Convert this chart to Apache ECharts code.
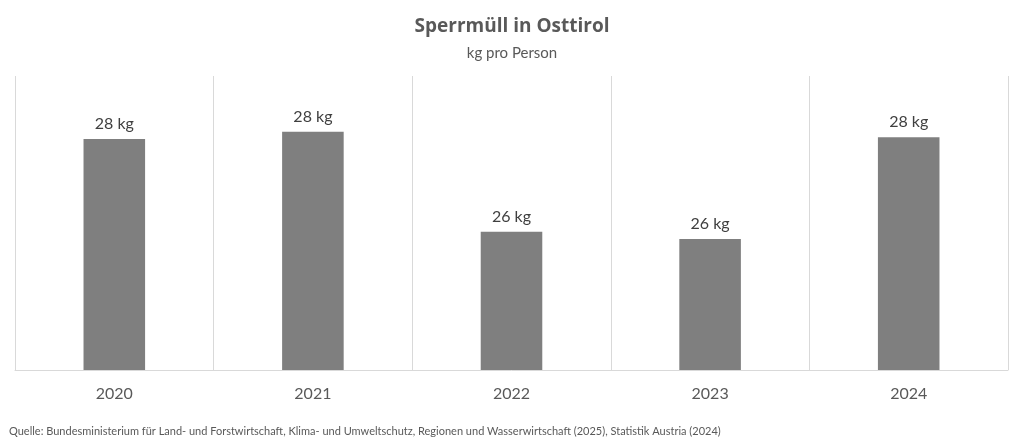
<!DOCTYPE html>
<html>
<head>
<meta charset="utf-8">
<script src="https://cdn.jsdelivr.net/npm/echarts@6/dist/echarts.min.js"></script>
<style>html,body{margin:0;padding:0;background:#fff;}#c{width:1024px;height:439px;}</style>
</head>
<body>
<div id="c"></div>
<script>
var titleText = 'Sperrmüll in Osttirol';
var subtitleText = 'kg pro Person';
var sourceText = 'Quelle: Bundesministerium für Land- und Forstwirtschaft, Klima- und Umweltschutz, Regionen und Wasserwirtschaft (2025), Statistik Austria (2024)';
var categories = ['2020', '2021', '2022', '2023', '2024'];
var values = [27.93, 28.05, 26.35, 26.23, 27.96];
var unit = ' kg';

var font = 'Lato, "Open Sans", sans-serif';
var chart = echarts.init(document.getElementById('c'));
chart.setOption({
  backgroundColor: '#fff',
  animation: false,
  title: [
    { text: titleText, left: 'center', top: 12, textStyle: { fontFamily: '"Open Sans", sans-serif', fontSize: 19, fontWeight: 'bold', color: '#595959' } },
    { text: subtitleText, left: 'center', top: 41, textStyle: { fontFamily: font, fontSize: 15, fontWeight: 'normal', color: '#595959' } },
    { text: sourceText, left: 4, top: 421, textStyle: { fontFamily: font, fontSize: 11, fontWeight: 'normal', color: '#595959' } }
  ],
  grid: { left: 15, right: 16, top: 76, bottom: 69, containLabel: false },
  xAxis: {
    type: 'category',
    data: categories,
    boundaryGap: true,
    axisLine: { show: true, lineStyle: { color: '#d9d9d9', width: 1 } },
    axisTick: { show: false },
    splitLine: { show: true, lineStyle: { color: '#d9d9d9', width: 1 } },
    axisLabel: { fontFamily: font, fontSize: 16, color: '#595959', margin: 16 }
  },
  yAxis: {
    type: 'value',
    min: 24, max: 29,
    show: false,
    splitLine: { show: false }
  },
  series: [{
    type: 'bar',
    data: values,
    barWidth: '31%',
    itemStyle: { color: '#7f7f7f' },
    label: {
      show: true, position: 'top', distance: 7,
      fontFamily: font, fontSize: 16, color: '#404040',
      formatter: function (p) { return Math.round(p.value) + unit; }
    }
  }]
});
</script>
</body>
</html>
